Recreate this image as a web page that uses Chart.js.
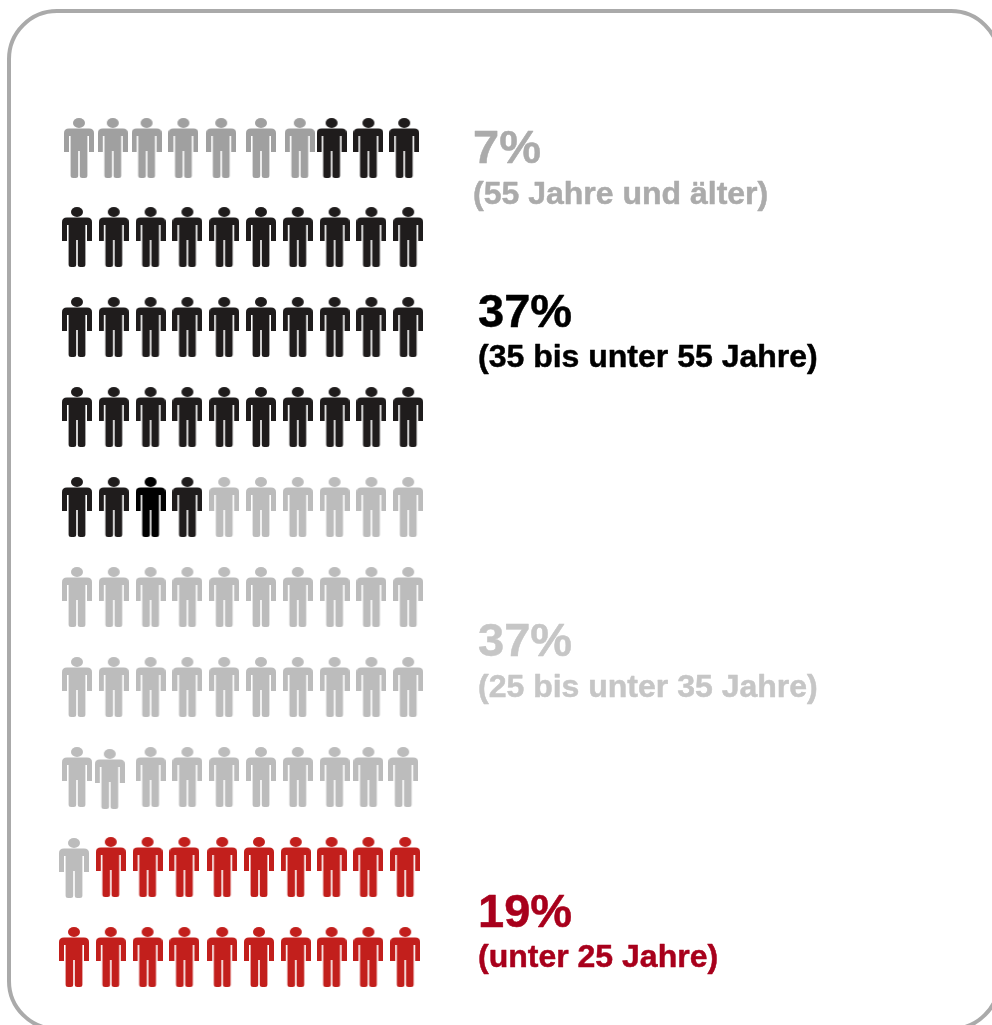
<!DOCTYPE html>
<html lang="de">
<head>
<meta charset="utf-8">
<title>Altersgruppen</title>
<script src="https://cdn.jsdelivr.net/npm/chart.js@4"></script>
<style>
  html, body { margin: 0; padding: 0; background: #fff; overflow: hidden; }
  #marco { position: relative; width: 992px; height: 1025px; overflow: hidden; }
  #borde { position: absolute; left: 7px; top: 9px; width: 986px; height: 1014px; border: 4px solid #aaaaaa; border-radius: 50px; }
  canvas { position: absolute; left: 0; top: 0; }
</style>
</head>
<body>
<div id="marco">
  <div id="borde"></div>
  <canvas id="miGrafico" width="992" height="1025"></canvas>
</div>
<script>
// Age groups, top to bottom. One figure = 1 percent
const prozent = [7, 37, 37, 19];
const gruppen = ['(55 Jahre und älter)', '(35 bis unter 55 Jahre)', '(25 bis unter 35 Jahre)', '(unter 25 Jahre)'];
const farben = ['#a0a0a0', '#1f1c1c', '#bcbcbc', '#c21f1c'];
const textFarben = ['#ababab', '#000000', '#c6c6c6', '#a8001c'];
const spalten = 10;

// Hand placement of the original figures, in pixels: row -> nudge per column
const schritt = 36.8;
const zeile = 90;
const nudgeX = {
    0: [2, -1, -4, -4, -3, 0, 2, -3, -3, -4],
    7: [0, -4, 0, 0, 0, 0, 0, 0, -3, -5],
    8: [-3, -3, -3, -3, -2, -2, -2, -3, -3, -3],
    9: [-3, -3, -3, -3, -2, -2, -2, -3, -3, -3]
};
const nudgeY = {
    0: [1, 1, 1, 1, 1, 1, 1, 1, 1, 1],
    7: [0, 2, 0, 0, 0, 0, 0, 0, 0, 0],
    8: [1, 0, 0, 0, 0, 0, 0, 0, 0, 0]
};
const textPos = [
    { x: 473, y1: 163, y2: 204 },
    { x: 478, y1: 327, y2: 367 },
    { x: 478, y1: 656, y2: 697 },
    { x: 478, y1: 927, y2: 967 }
];

// Person icon used as pointStyle
function crearFigura(color) {
    const c = document.createElement('canvas');
    c.width = 30;
    c.height = 60;
    const g = c.getContext('2d');
    g.fillStyle = color;
    g.beginPath();
    g.ellipse(15, 5, 6, 5, 0, 0, Math.PI * 2);
    g.fill();
    g.fill(new Path2D('M0,15 Q0,10.5 5,10.5 H25 Q30,10.5 30,15 V34 H25 V18 H23.4 V57.5 Q23.4,60 20.9,60 H18.3 Q15.8,60 15.8,57.5 V33 H14.2 V57.5 Q14.2,60 11.7,60 H9.1 Q6.6,60 6.6,57.5 V18 H5 V34 H0 Z'));
    return c;
}

// Fill the grid row by row with each group's count
let n = 0;
const datasets = prozent.map((wert, i) => {
    const puntos = [];
    for (let k = 0; k < wert; k++, n++) {
        const fila = Math.floor(n / spalten);
        const col = n % spalten;
        const extraX = nudgeX[fila] ? nudgeX[fila][col] : 0;
        const extraY = nudgeY[fila] ? nudgeY[fila][col] : 0;
        puntos.push({ x: col + extraX / schritt, y: fila + extraY / zeile });
    }
    return {
        label: gruppen[i],
        data: puntos,
        pointStyle: crearFigura(farben[i]),
        pointRadius: 15,
        pointHoverRadius: 15
    };
});

// One figure in the fifth row is pure black in the original
const figuraNegra = crearFigura('#000000');
const figuraGris = datasets[1].pointStyle;
datasets[1].pointStyle = ctx => ctx.dataIndex === 35 ? figuraNegra : figuraGris;

const textos = {
    id: 'textos',
    afterDraw(chart) {
        const ctx = chart.ctx;
        ctx.save();
        ctx.textAlign = 'left';
        ctx.textBaseline = 'alphabetic';
        ctx.lineWidth = 0.5;
        ctx.lineJoin = 'round';
        prozent.forEach((wert, i) => {
            ctx.fillStyle = textFarben[i];
            ctx.strokeStyle = textFarben[i];
            ctx.font = 'bold 47px "Liberation Sans"';
            ctx.fillText(wert + '%', textPos[i].x, textPos[i].y1);
            ctx.strokeText(wert + '%', textPos[i].x, textPos[i].y1);
            ctx.font = 'bold 32px "Liberation Sans"';
            ctx.fillText(gruppen[i], textPos[i].x, textPos[i].y2);
            ctx.strokeText(gruppen[i], textPos[i].x, textPos[i].y2);
        });
        ctx.restore();
    }
};

new Chart(document.getElementById('miGrafico').getContext('2d'), {
    type: 'scatter',
    data: { datasets: datasets },
    options: {
        responsive: false,
        animation: false,
        events: [],
        layout: { padding: 0, autoPadding: false },
        plugins: { legend: { display: false }, tooltip: { enabled: false } },
        scales: {
            x: { type: 'linear', display: false, min: -77 / schritt, max: (992 - 77) / schritt },
            y: { type: 'linear', display: false, reverse: true, min: -147 / zeile, max: (1025 - 147) / zeile }
        }
    },
    plugins: [textos]
});
</script>
</body>
</html>
